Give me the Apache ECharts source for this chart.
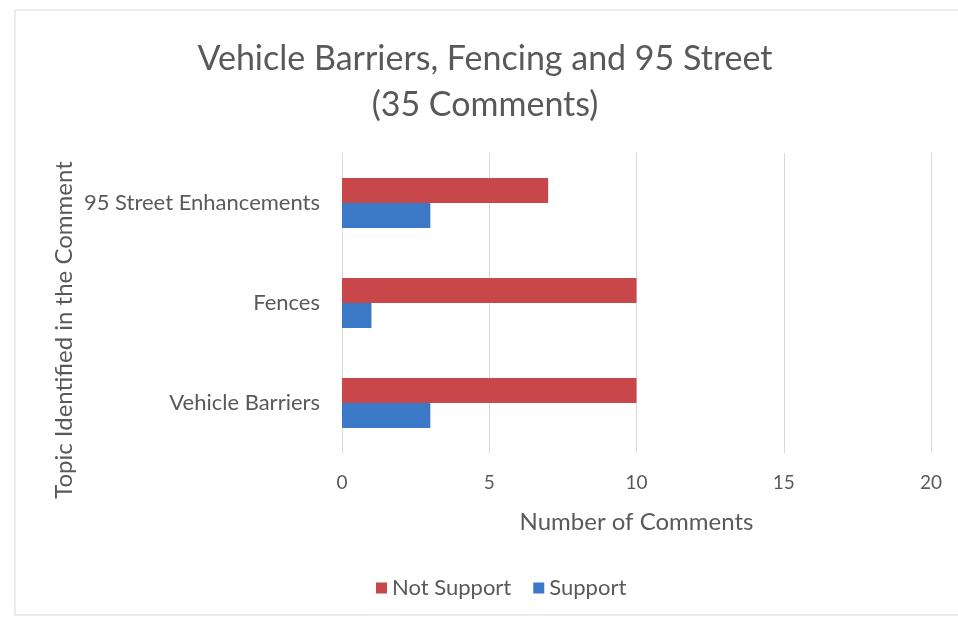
<!DOCTYPE html>
<html>
<head>
<meta charset="utf-8">
<script src="https://cdn.jsdelivr.net/npm/echarts@6/dist/echarts.min.js"></script>
<style>
  html, body { margin: 0; padding: 0; background: #fff; }
  #main { width: 958px; height: 619px; }
</style>
</head>
<body>
<div id="main"></div>
<script>
  // data
  var topics = ['Vehicle Barriers', 'Fences', '95 Street Enhancements'];
  var notSupport = [10, 10, 7];
  var support = [3, 1, 3];

  var chart = echarts.init(document.getElementById('main'));
  var font = 'Lato';

  chart.setOption({
    backgroundColor: '#fff',
    textStyle: { fontFamily: font },
    graphic: [
      {
        type: 'rect',
        shape: { x: 15, y: 10, width: 955, height: 605 },
        style: { fill: 'none', stroke: '#d9d9d9', lineWidth: 1 }
      },
      // y axis title sits a bit lower than the plot centre, as in the original
      {
        type: 'text',
        x: 64,
        y: 330,
        rotation: Math.PI / 2,
        style: {
          text: 'Topic Identified in the Comment',
          fontFamily: font,
          fontSize: 24,
          fill: '#595959',
          textAlign: 'center',
          textVerticalAlign: 'middle'
        }
      }
    ],
    title: {
      text: 'Vehicle Barriers, Fencing and 95 Street\n(35 Comments)',
      left: 480,
      top: 31,
      textAlign: 'center',
      textStyle: { fontFamily: font, fontSize: 34, fontWeight: 'normal', color: '#595959', lineHeight: 46 }
    },
    legend: {
      data: ['Not Support', 'Support'],
      bottom: 15,
      left: 371,
      itemWidth: 11,
      itemHeight: 11,
      itemGap: 22,
      icon: 'rect',
      textStyle: { fontFamily: font, fontSize: 22, color: '#595959' }
    },
    grid: { left: 342, right: 27, top: 153, bottom: 166 },
    xAxis: {
      type: 'value',
      min: 0,
      max: 20,
      interval: 5,
      name: 'Number of Comments',
      nameLocation: 'middle',
      nameGap: 57,
      nameTextStyle: { fontFamily: font, fontSize: 24, color: '#595959' },
      axisLine: { show: false },
      axisTick: { show: false },
      axisLabel: { fontFamily: font, fontSize: 19, color: '#595959', margin: 20 },
      splitLine: { lineStyle: { color: '#d9d9d9' } }
    },
    yAxis: {
      type: 'category',
      data: topics,
      axisLine: { show: false },
      axisTick: { show: false },
      axisLabel: { fontFamily: font, fontSize: 22, color: '#595959', margin: 22 }
    },
    series: [
      {
        name: 'Not Support',
        type: 'bar',
        data: notSupport,
        barWidth: 25,
        barGap: '0%',
        itemStyle: { color: '#c8474a' }
      },
      {
        name: 'Support',
        type: 'bar',
        data: support,
        barWidth: 25,
        barGap: '0%',
        itemStyle: { color: '#3b78c6' }
      }
    ]
  });
</script>
</body>
</html>
